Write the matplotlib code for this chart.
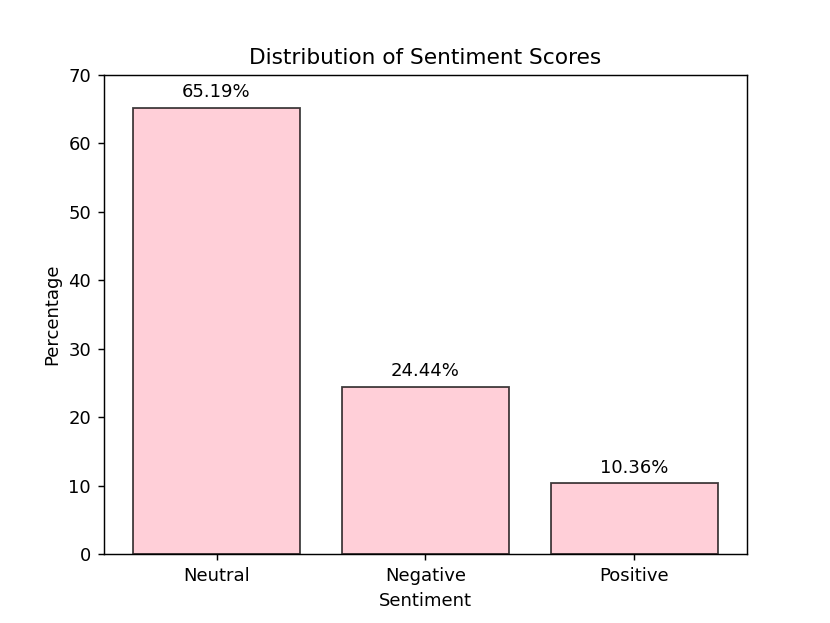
import matplotlib
matplotlib.use("Agg")
import matplotlib.pyplot as plt

categories = ["Neutral", "Negative", "Positive"]
values = [65.19, 24.44, 10.36]

fig, ax = plt.subplots(figsize=(830 / 130, 623 / 130), dpi=130)
bars = ax.bar(categories, values, color="pink", edgecolor="black", alpha=0.75)
for b, v in zip(bars, values):
    ax.text(b.get_x() + b.get_width() / 2, v + 1, f"{v:.2f}%", ha="center", va="bottom")
ax.set_ylim(0, 70)
ax.set_title("Distribution of Sentiment Scores")
ax.set_xlabel("Sentiment")
ax.set_ylabel("Percentage")
fig.savefig("out.png", dpi=130)
